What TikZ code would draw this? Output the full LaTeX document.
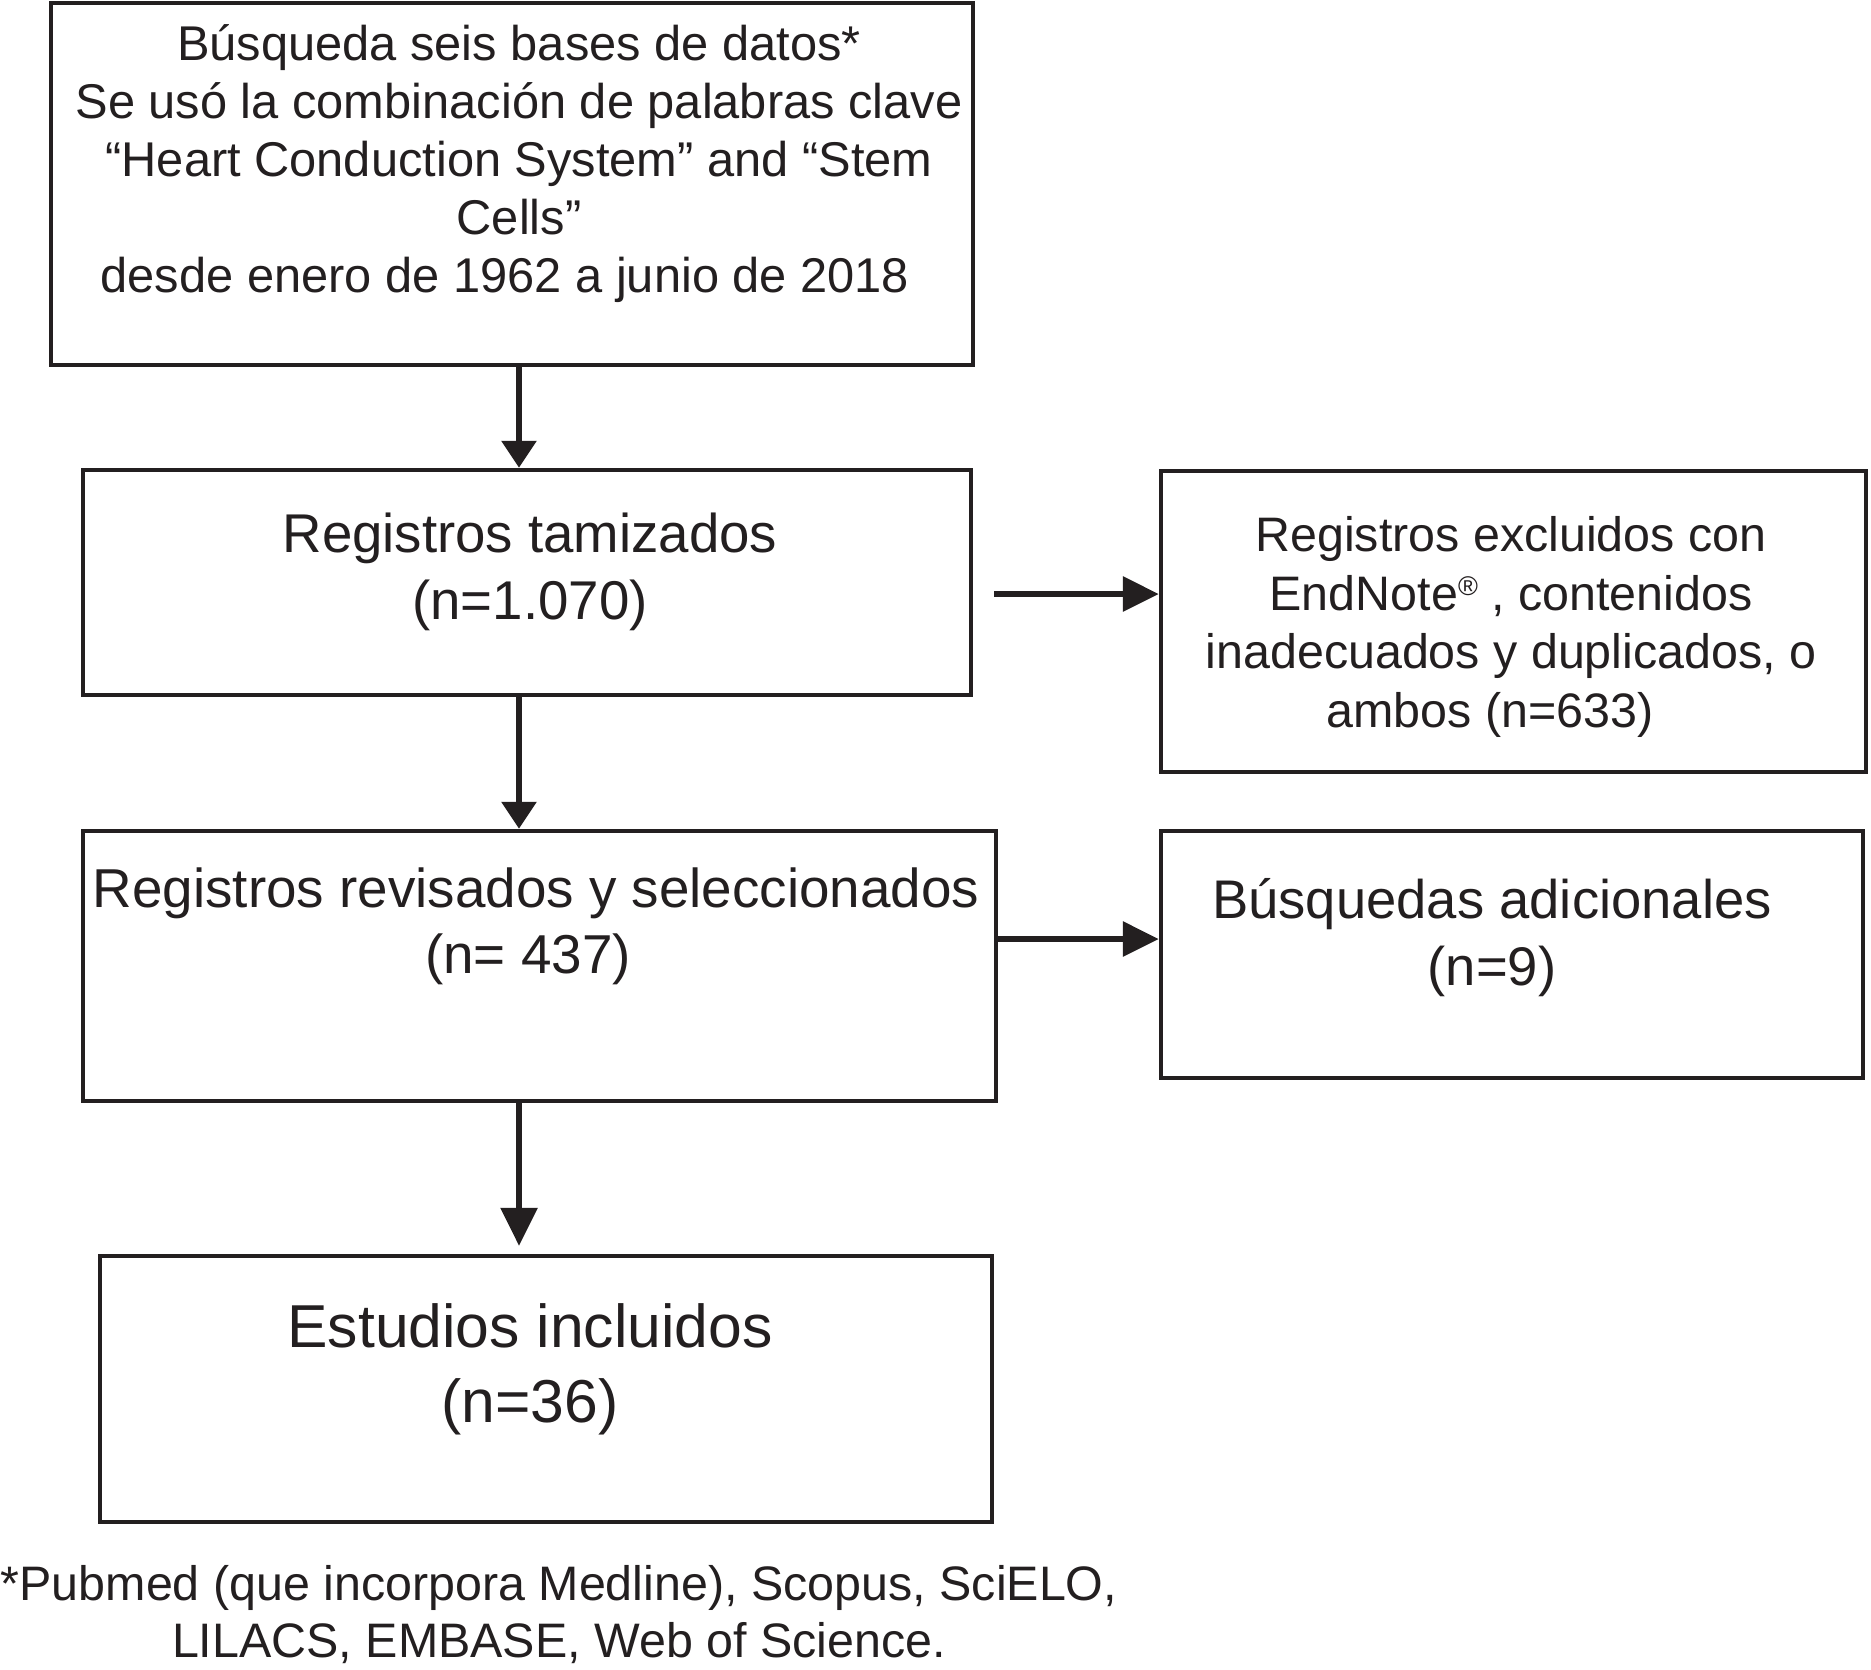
\documentclass[tikz,border=0pt]{standalone}
\usepackage{fontspec}
\setmainfont{Liberation Sans}
\usetikzlibrary{arrows.meta}
\definecolor{ink}{RGB}{35,31,32}
\newcommand{\regmark}{\raisebox{7.5pt}{\fontsize{13.5pt}{13.5pt}\selectfont ®}}
\begin{document}
\begin{tikzpicture}[x=0.5pt,y=-0.5pt,
  box/.style={draw=ink, line width=2.2pt, inner sep=0pt},
  txt/.style={inner sep=0pt, outer sep=0pt, align=center, text=ink},
  arr/.style={draw=ink, line width=3pt},
  tipv/.style={-{Triangle[length=13.5pt,width=17pt]}},
  tiph/.style={-{Triangle[length=18pt,width=17pt]}},
  tipb/.style={-{Triangle[length=19pt,width=18pt]}, shorten >=4pt}]
\useasboundingbox[fill=white] (0,0) rectangle (1871,1669);

% boxes
\node[box, minimum width=461pt, minimum height=181pt]   (b1) at (512,184) {};
\node[box, minimum width=444pt, minimum height=112.5pt] (b2) at (527,582.5) {};
\node[box, minimum width=352.5pt, minimum height=150.5pt] (b3) at (1513.5,621.5) {};
\node[box, minimum width=456.5pt, minimum height=135pt] (b4) at (539.5,966) {};
\node[box, minimum width=351pt, minimum height=123.5pt] (b5) at (1512,954.5) {};
\node[box, minimum width=446pt, minimum height=133pt]   (b6) at (546,1389) {};

% texts
\node[txt, font=\fontsize{24.4pt}{29.1pt}\selectfont] (t1) at (519,164.9)
  {\strut Búsqueda seis bases de datos*\\
   \strut Se usó la combinación de palabras clave\\
   \strut “Heart Conduction System” and “Stem\\
   \strut Cells”\\
   \strut desde enero de 1962 a junio de 2018\hspace*{14pt}};
\node[txt, font=\fontsize{27.3pt}{33.5pt}\selectfont] (t2) at (530,573)
  {\strut Registros tamizados\\ \strut (n=1.070)};
\node[txt, font=\fontsize{24.2pt}{29.2pt}\selectfont] (t3) at (1511,627.8)
  {\strut Registros excluidos con\\
   \strut EndNote\regmark{} , contenidos\\
   \strut inadecuados y duplicados, o\\
   \strut ambos (n=633)\hspace*{21pt}};
\node[txt, font=\fontsize{27.4pt}{33pt}\selectfont] (t4) at (536,926.8)
  {\strut Registros revisados y seleccionados\\ \strut (n= 437)\hspace*{8pt}};
\node[txt, font=\fontsize{27.2pt}{33.5pt}\selectfont] (t5) at (1492,938.1)
  {\strut Búsquedas adicionales\\ \strut (n=9)};
\node[txt, font=\fontsize{30.3pt}{37.5pt}\selectfont] (t6) at (530,1369.5)
  {\strut Estudios incluidos\\ \strut (n=36)};
\node[txt, font=\fontsize{24.2pt}{28.5pt}\selectfont] (fn) at (559,1617.1)
  {\strut *Pubmed (que incorpora Medline), Scopus, SciELO,\\
   \strut LILACS, EMBASE, Web of Science.};

% connectors
\coordinate (spine) at (519,0);
\coordinate (h1) at (994,594);
\coordinate (h2) at (0,939);
\draw[arr, tipv] (b1.south -| spine) -- (b2.north -| spine);
\draw[arr, tipv] (b2.south -| spine) -- (b4.north -| spine);
\draw[arr, tipb] (b4.south -| spine) -- (b6.north -| spine);
\draw[arr, tiph] (h1) -- (h1 -| b3.west);
\draw[arr, tiph] (b4.east |- h2) -- (b5.west |- h2);
\end{tikzpicture}
\end{document}
